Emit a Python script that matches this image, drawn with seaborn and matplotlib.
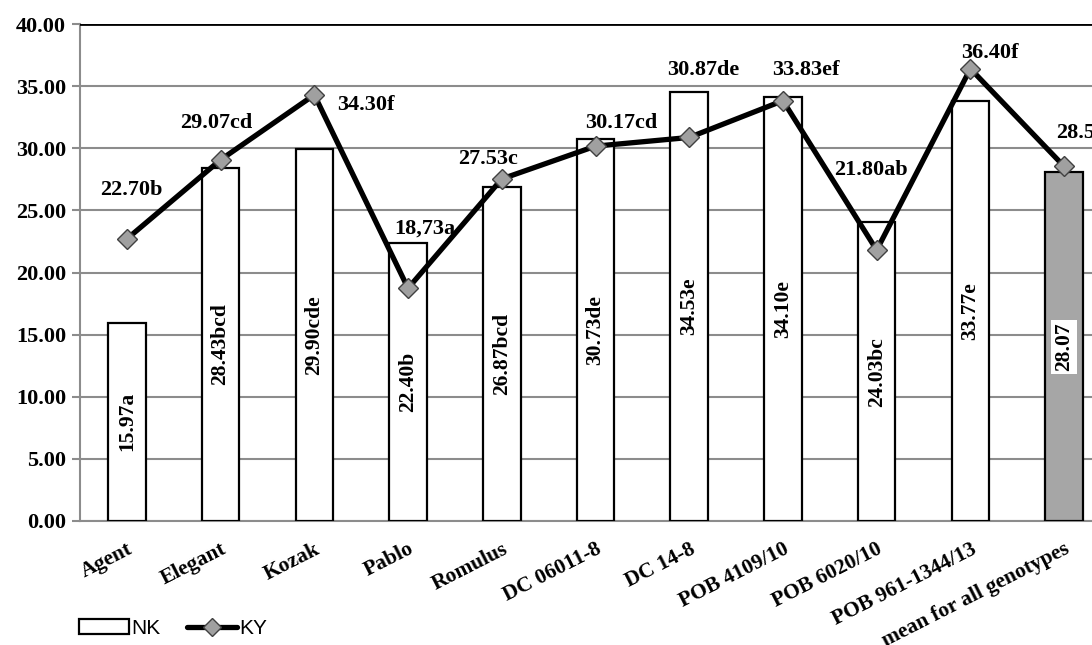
import numpy as np
import matplotlib
matplotlib.use("Agg")
import matplotlib.pyplot as plt
from matplotlib.lines import Line2D
from matplotlib.patches import Patch
import seaborn as sns

# Data
genotypes = ['Agent', 'Elegant', 'Kozak', 'Pablo', 'Romulus', 'DC 06011-8', 'DC 14-8',
             'POB 4109/10', 'POB 6020/10', 'POB 961-1344/13', 'mean for all genotypes']
nk = [15.97, 28.43, 29.90, 22.40, 26.87, 30.73, 34.53, 34.10, 24.03, 33.77, 28.07]
nk_labels = ['15.97a', '28.43bcd', '29.90cde', '22.40b', '26.87bcd', '30.73de', '34.53e',
             '34.10e', '24.03bc', '33.77e', '28.07']
ky = [22.70, 29.07, 34.30, 18.73, 27.53, 30.17, 30.87, 33.83, 21.80, 36.40, 28.54]
ky_labels = ['22.70b', '29.07cd', '34.30f', '18,73a', '27.53c', '30.17cd', '30.87de',
             '33.83ef', '21.80ab', '36.40f', '28.54']

# label offsets for KY values (pixels from the marker)
ky_offsets = [(4, 49), (-4, 37), (52, -10), (17, 60), (-14, 20), (26, 23), (14, 67),
              (23, 31), (-6, 80), (19, 16), (17, 33)]

sns.set_theme(style="white")
plt.rcParams['font.family'] = ['Liberation Serif', 'DejaVu Serif']
plt.rcParams['font.weight'] = 'bold'
plt.rcParams['text.color'] = 'black'
plt.rcParams['xtick.labelcolor'] = 'black'
plt.rcParams['ytick.labelcolor'] = 'black'

fig = plt.figure(figsize=(10.92, 6.45), dpi=100)
ax = fig.add_axes([80 / 1092, 124 / 645, 1031 / 1092, 497 / 645])

x = np.arange(len(genotypes))
bar_colors = ['white'] * (len(genotypes) - 1) + ['#a6a6a6']
sns.barplot(x=genotypes, y=nk, hue=genotypes, palette=bar_colors, legend=False,
            width=0.4, edgecolor='black', linewidth=1.6, saturation=1, ax=ax, zorder=3)

ax.plot(x, ky, color='black', linewidth=3.8, marker='D', markersize=10,
        markerfacecolor='#a0a0a0', markeredgecolor='#404040', markeredgewidth=1.0, zorder=5)

# bar labels, rotated inside bars
for i, (v, lab) in enumerate(zip(nk, nk_labels)):
    box = dict(facecolor='white', edgecolor='none', pad=2) if i == len(nk) - 1 else None
    ax.text(i, v / 2, lab, rotation=90, ha='center', va='center', fontsize=15.5,
            fontweight='bold', color='black', bbox=box, zorder=6)

# line labels
for i, (v, lab, off) in enumerate(zip(ky, ky_labels, ky_offsets)):
    ax.annotate(lab, (i, v), xytext=off, textcoords='offset pixels', ha='center',
                va='center', fontsize=16, fontweight='bold', color='black', zorder=7,
                annotation_clip=False)

ax.set_xlim(-0.5, len(genotypes) - 0.5)
ax.set_ylim(0, 40)
ax.set_yticks(np.arange(0, 41, 5))
ax.set_yticklabels([f'{t:.2f}' for t in np.arange(0, 41, 5)], fontsize=16, fontweight='bold')
ax.yaxis.grid(True, color='#8c8c8c', linewidth=1.5, zorder=0)
ax.set_axisbelow(True)
ax.axhline(40, color='black', linewidth=2, zorder=4)

ax.set_xticks(x)
ax.set_xticklabels(genotypes, rotation=27, ha='right', va='top', rotation_mode='anchor',
                   fontsize=15.5, fontweight='bold')
ax.set_xticks(np.arange(-0.5, len(genotypes), 1), minor=True)
ax.tick_params(axis='x', which='major', length=0, pad=13)
ax.tick_params(axis='x', which='minor', length=6, color='#8c8c8c', width=1.5, direction='out')
ax.tick_params(axis='y', length=6, color='#8c8c8c', width=1.5, direction='out', left=True, pad=4)

for side in ['top', 'right']:
    ax.spines[side].set_visible(False)
for side in ['left', 'bottom']:
    ax.spines[side].set_color('#8c8c8c')
    ax.spines[side].set_linewidth(1.5)

handles = [Patch(facecolor='white', edgecolor='black', linewidth=1.6, label='NK'),
           Line2D([0], [0], color='black', linewidth=3.8, marker='D', markersize=9,
                  markerfacecolor='#a0a0a0', markeredgecolor='#404040', label='KY')]
fig.legend(handles=handles, loc='lower left', bbox_to_anchor=(60 / 1092, -0.018), ncol=2,
           frameon=False, prop={'family': 'Liberation Sans', 'size': 15, 'weight': 'normal'},
           handlelength=2.4, handletextpad=0.1, columnspacing=1.3)

fig.savefig('out.png', dpi=100)
